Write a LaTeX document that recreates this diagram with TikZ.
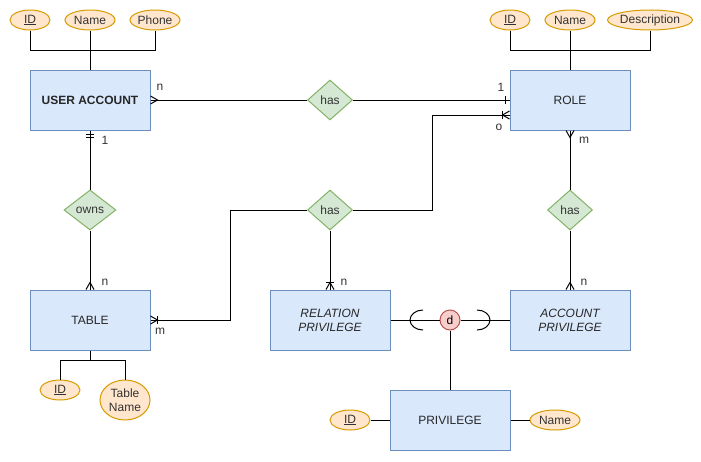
\documentclass[tikz,border=0pt]{standalone}
\usepackage{fontspec}
\setmainfont{Liberation Sans}
\usetikzlibrary{shapes.geometric,calc}
\definecolor{entfill}{HTML}{DAE8FC}
\definecolor{entdraw}{HTML}{6C8EBF}
\definecolor{attfill}{HTML}{FFE6CC}
\definecolor{attdraw}{HTML}{D79B00}
\definecolor{relfill}{HTML}{D5E8D4}
\definecolor{reldraw}{HTML}{82B366}
\definecolor{dfill}{HTML}{F8CECC}
\definecolor{ddraw}{HTML}{B85450}
\definecolor{lbl}{HTML}{333333}
\tikzset{
  entity/.style={rectangle,draw=entdraw,fill=entfill,line width=1pt,minimum width=120pt,minimum height=60pt,inner sep=0pt,font=\fontsize{12pt}{14pt}\selectfont,align=center,text=black!85},
  attr/.style={ellipse,draw=attdraw,fill=attfill,line width=1pt,inner sep=0pt,font=\fontsize{12pt}{14pt}\selectfont,align=center,text=black!80},
  rel/.style={diamond,draw=reldraw,fill=relfill,line width=1pt,inner sep=0pt,minimum height=40pt,font=\fontsize{12pt}{14pt}\selectfont,text=black!80},
  conn/.style={line width=1pt,black},
  card/.style={font=\fontsize{12pt}{14pt}\selectfont,text=lbl,inner sep=0pt},
}
\begin{document}
\begin{tikzpicture}[x=1pt,y=-1pt]
\fill[white] (0,0) rectangle (701,461);
\useasboundingbox (0,0) rectangle (701,461);
% entities
\node[entity,font=\fontsize{12pt}{14pt}\selectfont\bfseries] (ua) at (90,100) {USER ACCOUNT};
\node[entity] (role) at (570,100) {ROLE};
\node[entity] (table) at (90,320) {TABLE};
\node[entity,font=\fontsize{12pt}{14pt}\selectfont\itshape] (relp) at (330,320) {RELATION\\PRIVILEGE};
\node[entity,font=\fontsize{12pt}{14pt}\selectfont\itshape] (accp) at (570,320) {ACCOUNT\\PRIVILEGE};
\node[entity] (priv) at (450,420) {PRIVILEGE};
% attributes
\node[attr,minimum width=40pt,minimum height=20pt] (uid) at (30,20) {\underline{ID}};
\node[attr,minimum width=50pt,minimum height=20pt] (uname) at (90,20) {Name};
\node[attr,minimum width=50pt,minimum height=20pt] (uphone) at (155,20) {Phone};
\node[attr,minimum width=40pt,minimum height=20pt] (rid) at (510,20) {\underline{ID}};
\node[attr,minimum width=50pt,minimum height=20pt] (rname) at (570,20) {Name};
\node[attr,minimum width=80pt,minimum height=20pt] (rdesc) at (650,20) {Description};
\node[attr,minimum width=40pt,minimum height=20pt] (tid) at (60,390) {\underline{ID}};
\node[attr,minimum width=50pt,minimum height=40pt,font=\fontsize{12pt}{14pt}\selectfont] (tname) at (125,400) {Table\\Name};
\node[attr,minimum width=40pt,minimum height=20pt] (pid) at (350,420) {\underline{ID}};
\node[attr,minimum width=50pt,minimum height=20pt] (pname) at (555,420) {Name};
% relationships
\node[rel,minimum width=45pt] (hast) at (330,100) {has};
\node[rel,minimum width=52pt] (owns) at (90,210) {owns};
\node[rel,minimum width=45pt] (hasm) at (330,210) {has};
\node[rel,minimum width=45pt] (hasr) at (570,210) {has};
\node[circle,draw=ddraw,fill=dfill,line width=1pt,minimum size=20pt,inner sep=0pt,font=\fontsize{12pt}{14pt}\selectfont] (d) at (450,320) {d};
% attribute connectors
\coordinate (ubus) at (90,50);
\draw[conn] (uid.south) |- (uphone.south |- ubus) -- (uphone.south);
\draw[conn] (uname.south) -- (ua.north);
\coordinate (rbus) at (570,50);
\draw[conn] (rid.south) |- (rdesc.south |- rbus) -- (rdesc.south);
\draw[conn] (rname.south) -- (role.north);
\coordinate (tbus) at (90,360);
\draw[conn] (tid.north) |- (tname.north |- tbus) -- (tname.north);
\draw[conn] (table.south) -- (table.south |- tbus);
\draw[conn] (pid.east) -- (priv.west);
\draw[conn] (priv.east) -- (pname.west);
% relationship connectors
\draw[conn] (ua.east) -- (hast.west);
\draw[conn] (hast.east) -- (role.west);
\coordinate (r2) at ($(role.west)+(0,15)$);
\coordinate (kr) at (432,210);
\draw[conn] (r2) -| (kr) -- (hasm.east);
\coordinate (kt) at (230,210);
\draw[conn] (hasm.west) -- (kt) |- (table.east);
\draw[conn] (hasm.south) -- (relp.north);
\draw[conn] (ua.south) -- (owns.north);
\draw[conn] (owns.south) -- (table.north);
\draw[conn] (role.south) -- (hasr.north);
\draw[conn] (hasr.south) -- (accp.north);
\draw[conn] (relp.east) -- (d.west);
\draw[conn] (d.east) -- (accp.west);
\draw[conn] (d.south) -- (priv.north);
% subset arcs
\draw[conn] ($(d)+(-27,10)$) arc[start angle=90,end angle=270,x radius=13,y radius=10];
\draw[conn] ($(d)+(27,-10)$) arc[start angle=-90,end angle=90,x radius=13,y radius=10];
% cardinality markers
\draw[conn] ($(ua.east)+(0,-4)$) -- ($(ua.east)+(7,0)$) -- ($(ua.east)+(0,4)$);
\draw[conn] ($(role.west)+(-4,-4)$) -- ($(role.west)+(-4,4)$);
\draw[conn] ($(r2)+(0,-4)$) -- ($(r2)+(-7,0)$) -- ($(r2)+(0,4)$);
\draw[conn] ($(r2)+(-7,-4)$) -- ($(r2)+(-7,4)$);
\draw[conn] ($(table.east)+(0,-4)$) -- ($(table.east)+(7,0)$) -- ($(table.east)+(0,4)$);
\draw[conn] ($(table.east)+(7,-4)$) -- ($(table.east)+(7,4)$);
\draw[conn] ($(relp.north)+(-4,0)$) -- ($(relp.north)+(0,-7)$) -- ($(relp.north)+(4,0)$);
\draw[conn] ($(relp.north)+(-4,-7)$) -- ($(relp.north)+(4,-7)$);
\draw[conn] ($(ua.south)+(-4,4)$) -- ($(ua.south)+(4,4)$);
\draw[conn] ($(ua.south)+(-4,7)$) -- ($(ua.south)+(4,7)$);
\draw[conn] ($(table.north)+(-4,0)$) -- ($(table.north)+(0,-7)$) -- ($(table.north)+(4,0)$);
\draw[conn] ($(role.south)+(-4,0)$) -- ($(role.south)+(0,7)$) -- ($(role.south)+(4,0)$);
\draw[conn] ($(accp.north)+(-4,0)$) -- ($(accp.north)+(0,-7)$) -- ($(accp.north)+(4,0)$);
% cardinality labels
\node[card] (l1) at (160,87) {n};
\node[card] (l2) at (501,87) {1};
\node[card] (l3) at (499,127) {o};
\node[card] (l4) at (160,331) {m};
\node[card] (l5) at (344,282) {n};
\node[card] (l6) at (105,140) {1};
\node[card] (l7) at (105,282) {n};
\node[card] (l8) at (584,140) {m};
\node[card] (l9) at (584,282) {n};
\end{tikzpicture}
\end{document}
